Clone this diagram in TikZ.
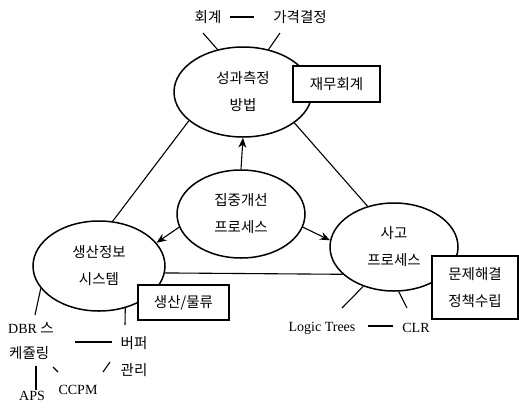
\documentclass[tikz,border=0pt]{standalone}
\usepackage{fontspec}
\setmainfont{Liberation Serif}
\newfontfamily\kr{Noto Sans CJK KR}
\usetikzlibrary{shapes.geometric,arrows.meta}
\tikzset{
  krfont/.style={font=\kr\fontsize{14.5}{27}\selectfont},
  oval/.style={ellipse,draw,line width=1.5pt,inner sep=0pt,align=center,krfont},
  tagbox/.style={rectangle,draw,line width=1.3pt,fill=white,inner sep=0pt,align=center,krfont},
  krlab/.style={inner sep=1pt,align=center,krfont},
  enlab/.style={inner sep=1pt,font=\fontsize{14}{16}\selectfont},
  link/.style={line width=1.1pt},
  arr/.style={line width=1.1pt,-{Stealth[length=10pt,width=8pt]}}
}
\begin{document}
\begin{tikzpicture}[x=1pt,y=-1pt]
\useasboundingbox (0,0) rectangle (519,408);
% main ellipses
\node[oval,minimum width=138pt,minimum height=90pt] (top) at (243,92) {성과측정\\방법};
\node[oval,minimum width=128pt,minimum height=88pt] (mid) at (241,214) {집중개선\\프로세스};
\node[oval,minimum width=132pt,minimum height=90pt] (left) at (99,266) {생산정보\\시스템};
\node[oval,minimum width=128pt,minimum height=88pt] (right) at (394,247) {사고\\프로세스};
% connectors between ellipses
\draw[link] (top.-152) -- (left.73);
\draw[link] (top.-31) -- (right.123);
\draw[link] (left.-6) -- (right.-152);
\draw[arr] (mid.north) -- (top.south);
\draw[arr] (mid.-168) -- (left.22);
\draw[arr] (mid.-12) -- (right.174);
% boxes
\node[tagbox,minimum width=87pt,minimum height=36pt] (fin) at (336.5,84) {재무회계};
\node[tagbox,minimum width=91pt,minimum height=35pt] (prod) at (183.5,302.5) {생산/물류};
\node[tagbox,minimum width=86pt,minimum height=63pt] (prob) at (475,287.5) {문제해결\\정책수립};
% top labels
\node[krlab] (acc) at (208,17) {회계};
\node[krlab] (price) at (300,17) {가격결정};
\coordinate (t1) at (230,17);
\coordinate (t2) at (254,17);
\draw[link] (t1) -- (t2);
\coordinate (ta) at (203,33);
\coordinate (tb) at (280,33);
\draw[link] (top.121) -- (ta);
\draw[link] (top.59) -- (tb);
% left bottom labels
\node[enlab,anchor=west] (dbr) at (7,328) {DBR {\kr\fontsize{14.5}{16}\selectfont 스}};
\node[krlab,anchor=west] (sch) at (8,353) {케쥴링};
\node[krlab] (buf) at (134,343) {버퍼};
\node[krlab] (mgmt) at (134,370) {관리};
\node[enlab] (aps) at (32,396) {APS};
\node[enlab] (ccpm) at (78,390) {CCPM};
\coordinate (d1) at (35,315);
\draw[link] (left.-159) -- (d1);
\coordinate (b1) at (125,325);
\draw[link] (left.-58) -- (b1);
\coordinate (h1) at (75,342);
\coordinate (h2) at (112,342);
\draw[link] (h1) -- (h2);
\coordinate (s1) at (53,367);
\coordinate (s2) at (58,372);
\draw[link] (s1) -- (s2);
\coordinate (c1) at (103,372);
\coordinate (c2) at (110,362);
\draw[link] (c1) -- (c2);
\coordinate (a1) at (36,366);
\draw[link] (a1) -- (aps.north -| a1);
% right bottom labels
\node[enlab] (lt) at (322,328) {Logic Trees};
\node[enlab] (clr) at (416,328) {CLR};
\coordinate (l1) at (368,326);
\coordinate (l2) at (393,326);
\draw[link] (l1) -- (l2);
\coordinate (r1) at (342,308);
\coordinate (r2) at (407,308);
\draw[link] (right.-128) -- (r1);
\draw[link] (right.-84) -- (r2);
\end{tikzpicture}
\end{document}
